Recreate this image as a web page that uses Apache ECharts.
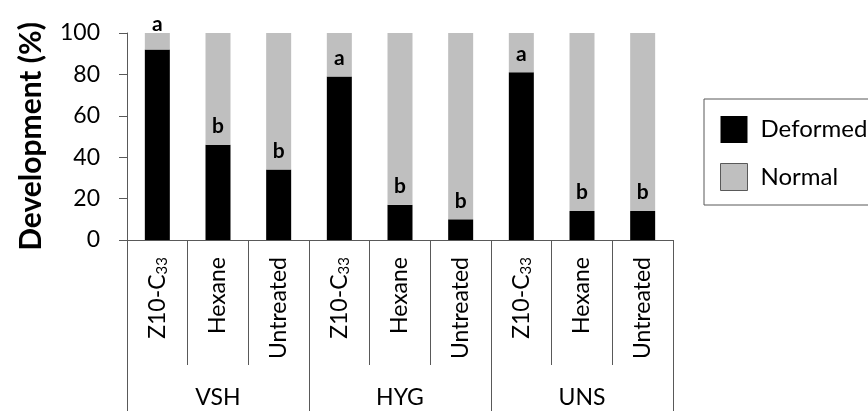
<!DOCTYPE html>
<html>
<head>
<meta charset="utf-8">
<script src="https://cdn.jsdelivr.net/npm/echarts@6/dist/echarts.min.js"></script>
<style>
  html, body { margin: 0; padding: 0; background: #fff; }
  #chart { width: 868px; height: 411px; }
</style>
</head>
<body>
<div id="chart"></div>
<script>
// treatments inside each population group
var treatments = ["Z10-C{sub|33}", "Hexane", "Untreated",
                  "Z10-C{sub|33}", "Hexane", "Untreated",
                  "Z10-C{sub|33}", "Hexane", "Untreated"];
var groups = ["VSH", "HYG", "UNS"];
var deformed = [92, 46, 34, 79, 17, 10, 81, 14, 14];
var normal = [8, 54, 66, 21, 83, 90, 19, 86, 86];
var letters = ["a", "b", "b", "a", "b", "b", "a", "b", "b"];
var yTicks = [0, 20, 40, 60, 80, 100];

var font = "Lato";
var lineCol = "#595959";

var myChart = echarts.init(document.getElementById("chart"));

// letter sits on the grey part, or above the bar when the grey part is too short
var normalData = normal.map(function (v, i) {
  var item = { value: v };
  if (v < 15) {
    item.label = { position: "top", distance: -2 };
  }
  return item;
});

myChart.setOption({
  animation: false,
  textStyle: { fontFamily: font, color: "#000" },
  grid: {
    left: 127,
    right: 195,
    top: 33,
    bottom: 171,
    outerBoundsMode: "none"
  },
  legend: {
    orient: "vertical",
    left: 704,
    top: 99,
    itemWidth: 27,
    itemHeight: 27,
    itemGap: 20,
    borderColor: lineCol,
    borderWidth: 1,
    padding: [17, 80, 14, 16],
    textStyle: { fontFamily: font, fontSize: 24, color: "#000", padding: [0, 0, 0, 8] },
    data: [
      { name: "Deformed", icon: "rect" },
      { name: "Normal", icon: "rect", itemStyle: { borderColor: lineCol, borderWidth: 1 } }
    ]
  },
  xAxis: [
    {
      type: "category",
      data: treatments,
      position: "bottom",
      axisLine: { show: true, lineStyle: { color: lineCol, width: 1 } },
      axisTick: { show: true, interval: 0, length: 125, lineStyle: { color: lineCol } },
      axisLabel: {
        interval: 0,
        rotate: 90,
        margin: 17,
        fontFamily: font,
        fontSize: 23,
        color: "#000",
        rich: {
          sub: { fontFamily: font, fontSize: 15, color: "#000", verticalAlign: "bottom", padding: [9, 0, 0, 0] }
        }
      }
    },
    {
      type: "category",
      data: groups,
      position: "bottom",
      offset: 0,
      axisLine: { show: false },
      axisTick: { show: true, interval: 0, length: 171, lineStyle: { color: lineCol } },
      axisLabel: { interval: 0, margin: 146, fontFamily: font, fontSize: 23, color: "#000" }
    }
  ],
  yAxis: {
    type: "value",
    min: 0,
    max: 100,
    interval: 20,
    name: "Development (%)",
    nameLocation: "middle",
    nameGap: 81,
    nameTextStyle: { fontFamily: font, fontSize: 30, fontWeight: "bold", color: "#000" },
    axisLine: { show: true, lineStyle: { color: lineCol, width: 1 } },
    axisTick: { show: true, length: 8, lineStyle: { color: lineCol } },
    axisLabel: {
      margin: 27,
      fontFamily: font,
      fontSize: 23,
      color: "#000",
      formatter: function (v) { return yTicks.indexOf(v) >= 0 ? String(v) : ""; }
    },
    splitLine: { show: false }
  },
  series: [
    {
      name: "Deformed",
      type: "bar",
      stack: "total",
      xAxisIndex: 0,
      barWidth: 25,
      itemStyle: { color: "#000" },
      data: deformed
    },
    {
      name: "Normal",
      type: "bar",
      stack: "total",
      xAxisIndex: 0,
      barWidth: 25,
      itemStyle: { color: "#bfbfbf" },
      label: {
        show: true,
        position: "insideBottom",
        distance: 8,
        fontFamily: font,
        fontSize: 21,
        fontWeight: "bold",
        color: "#000",
        formatter: function (p) { return letters[p.dataIndex]; }
      },
      data: normalData
    }
  ]
});
</script>
</body>
</html>
